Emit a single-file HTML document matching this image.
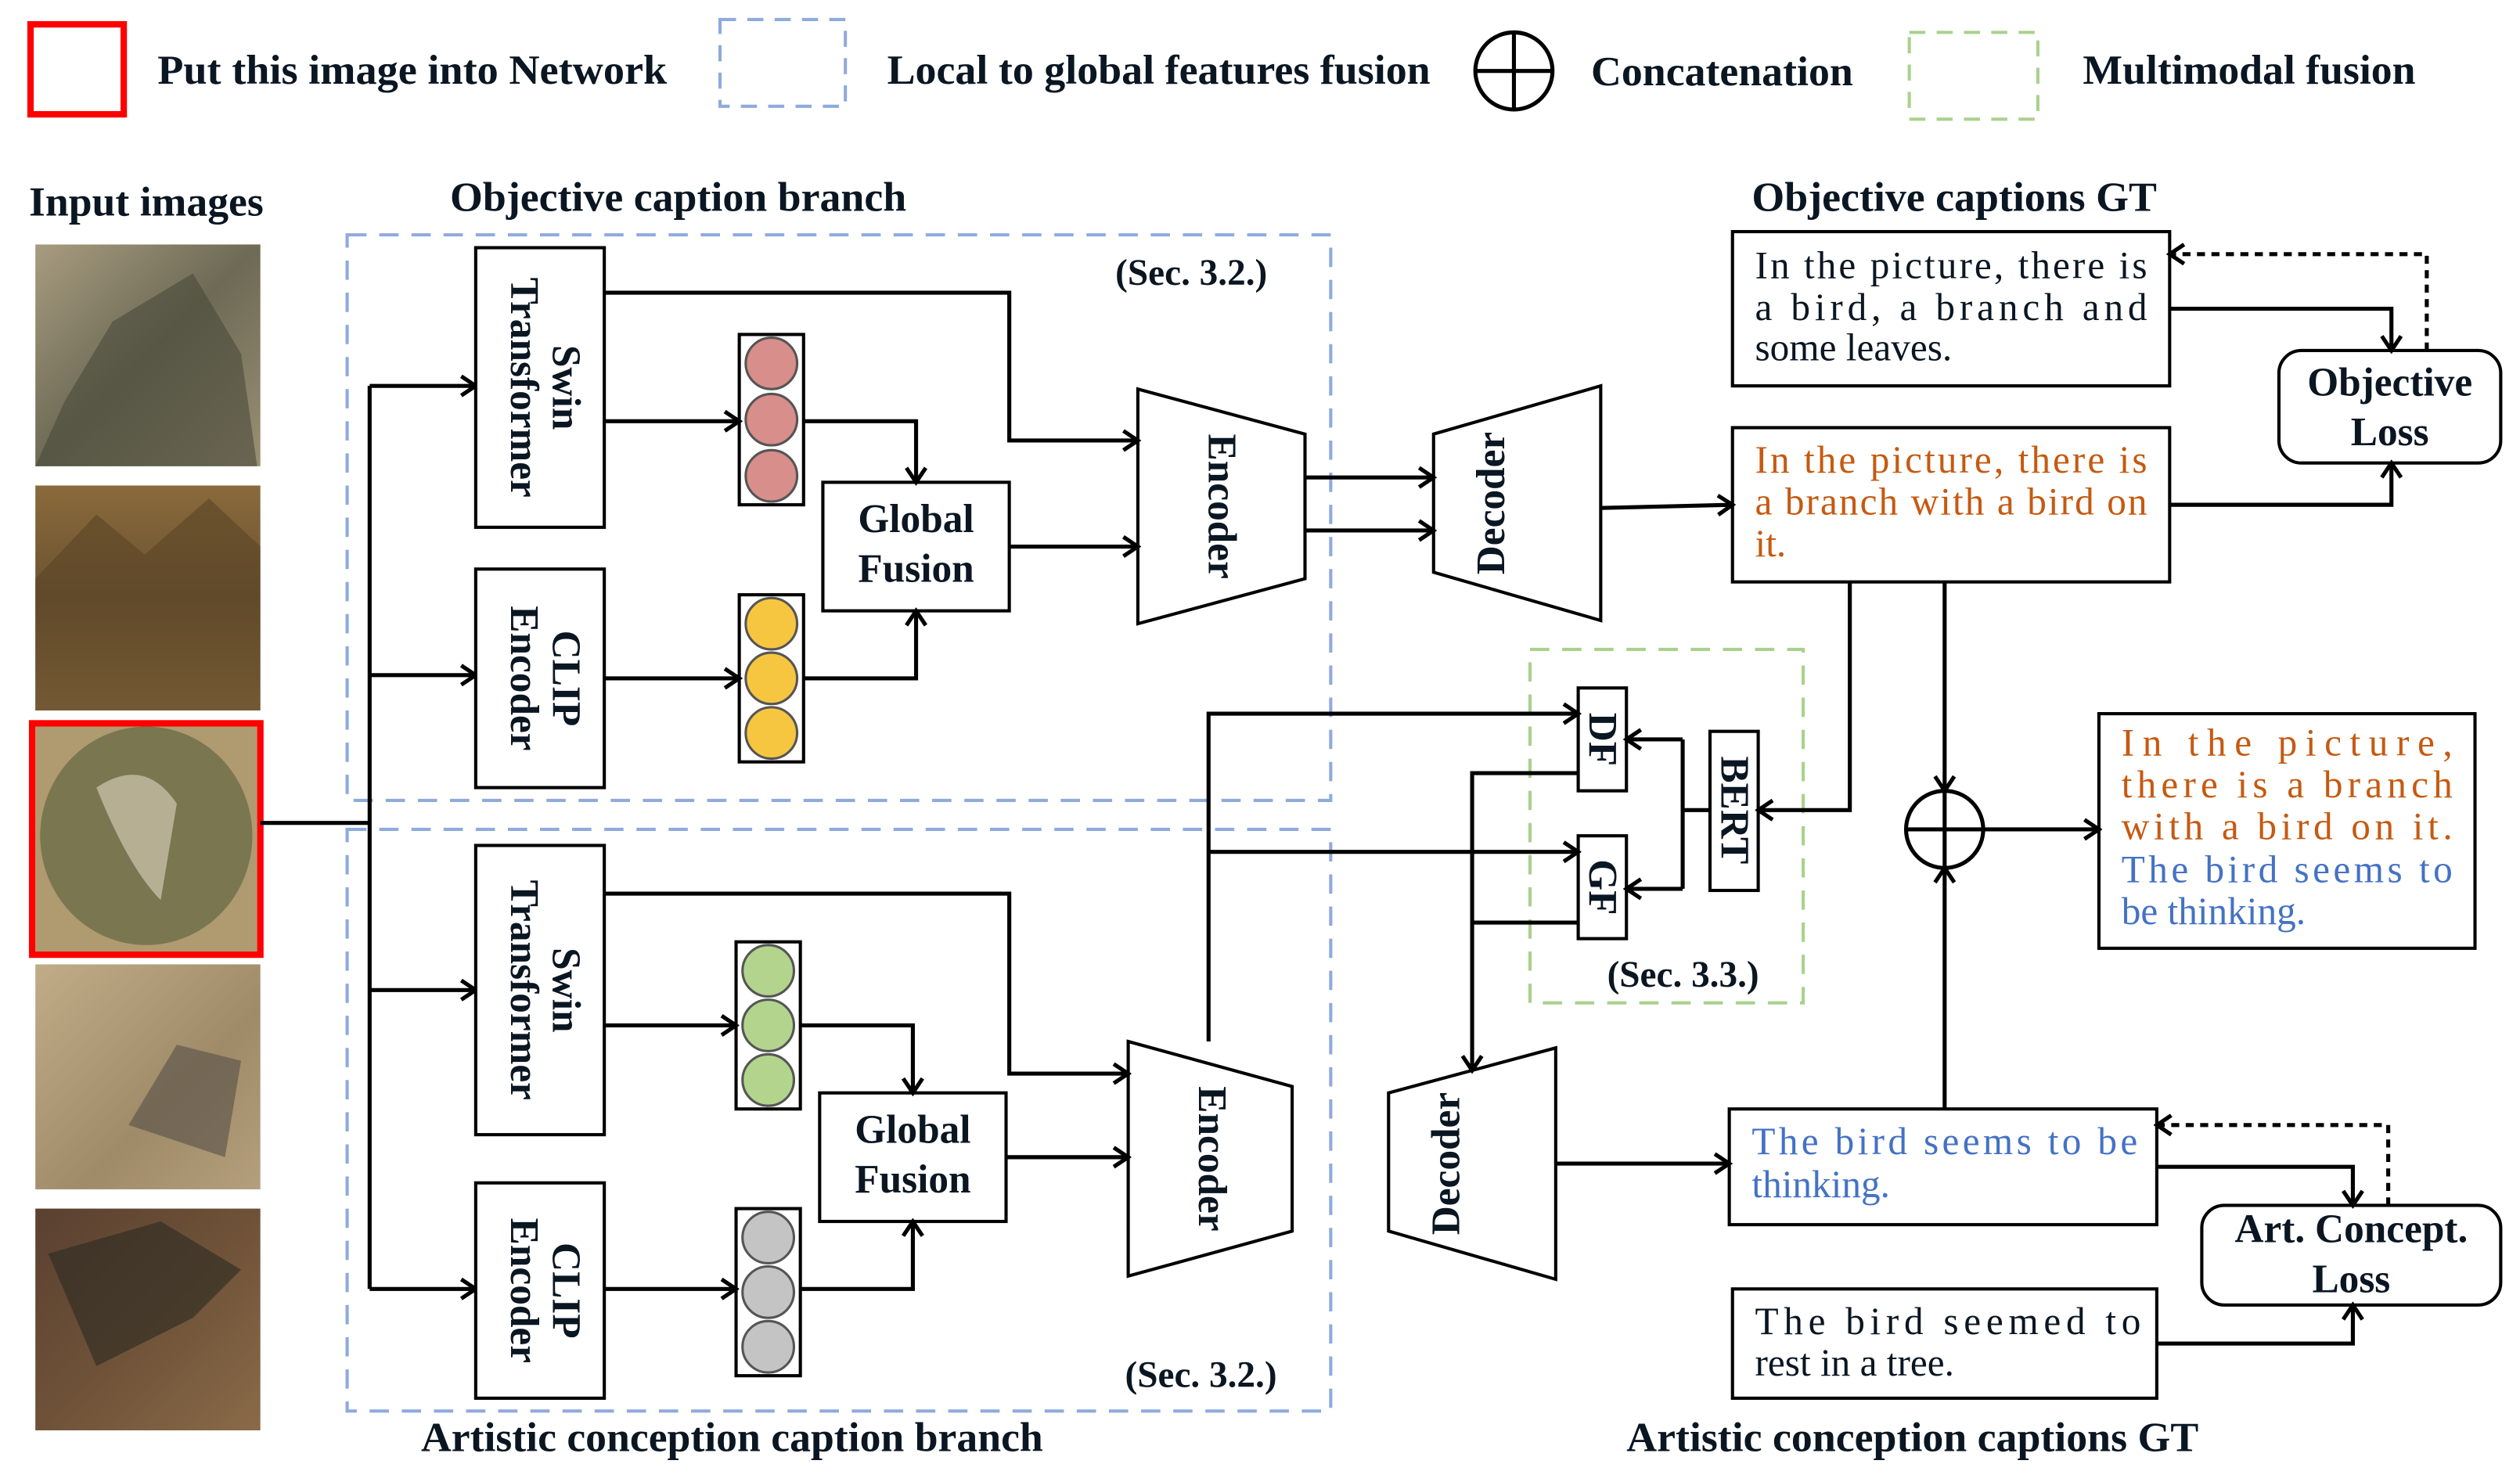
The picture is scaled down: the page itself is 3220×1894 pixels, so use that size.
<!DOCTYPE html>
<html><head><meta charset="utf-8"><style>
html,body{margin:0;padding:0;background:#fff;}
svg{display:block;}
text,tspan{font-family:"Liberation Serif","Times New Roman",serif;}
.b{font-weight:bold;fill:#0a1622;}
.t{font-size:24px;fill:#0a1622;}
.o{fill:#c55a11;font-size:24px;}
.u{fill:#4472c4;font-size:24px;}
</style></head><body>
<svg width="3220" height="1894" viewBox="0 0 1568 922" xmlns="http://www.w3.org/2000/svg" font-family="Liberation Serif, serif">
<defs>
<marker id="a" markerWidth="12" markerHeight="14" refX="10" refY="7" orient="auto" markerUnits="userSpaceOnUse">
<path d="M1,1 L10,7 L1,13" fill="none" stroke="#000" stroke-width="2.5"/></marker>
<linearGradient id="p1" x1="0" y1="0" x2="1" y2="1"><stop offset="0" stop-color="#a89c80"/><stop offset="0.5" stop-color="#6d6a55"/><stop offset="1" stop-color="#9a8f74"/></linearGradient>
<linearGradient id="p2" x1="0" y1="0" x2="0" y2="1"><stop offset="0" stop-color="#8a6a3c"/><stop offset="0.5" stop-color="#6b5230"/><stop offset="1" stop-color="#9a7a48"/></linearGradient>
<linearGradient id="p4" x1="0" y1="0" x2="1" y2="1"><stop offset="0" stop-color="#c0ad88"/><stop offset="0.6" stop-color="#a08b68"/><stop offset="1" stop-color="#b49f7c"/></linearGradient>
<linearGradient id="p5" x1="0" y1="0" x2="1" y2="1"><stop offset="0" stop-color="#5a4030"/><stop offset="0.5" stop-color="#6e5238"/><stop offset="1" stop-color="#8a6a48"/></linearGradient>
</defs>
<g fill="none" stroke="#000" stroke-width="2.5">
<rect x="19" y="15" width="58" height="56" stroke="#f00" stroke-width="4"/>
<rect x="448" y="12" width="78" height="54" stroke="#8faadc" stroke-width="2" stroke-dasharray="10,7"/>
<circle cx="942" cy="44" r="24"/><line x1="918" y1="44" x2="966" y2="44"/><line x1="942" y1="20" x2="942" y2="68"/>
<rect x="1188" y="20" width="80" height="54" stroke="#a9d18e" stroke-width="2" stroke-dasharray="10,7"/>
<rect x="216" y="146" width="612" height="352" stroke="#8faadc" stroke-width="2" stroke-dasharray="12,8"/>
<rect x="216" y="516" width="612" height="362" stroke="#8faadc" stroke-width="2" stroke-dasharray="12,8"/>
<rect x="952" y="404" width="170" height="220" stroke="#a9d18e" stroke-width="2" stroke-dasharray="12,8"/>
</g>
<text x="98" y="52" class="b" font-size="26" textLength="317" lengthAdjust="spacingAndGlyphs">Put this image into Network</text>
<text x="552" y="52" class="b" font-size="26" textLength="338" lengthAdjust="spacingAndGlyphs">Local to global features fusion</text>
<text x="990" y="53" class="b" font-size="26" textLength="163" lengthAdjust="spacingAndGlyphs">Concatenation</text>
<text x="1296" y="52" class="b" font-size="26" textLength="207" lengthAdjust="spacingAndGlyphs">Multimodal fusion</text>
<text x="18" y="134" class="b" font-size="26" textLength="146" lengthAdjust="spacingAndGlyphs">Input images</text>
<text x="280" y="131" class="b" font-size="26" textLength="284" lengthAdjust="spacingAndGlyphs">Objective caption branch</text>
<text x="262" y="903" class="b" font-size="26" textLength="387" lengthAdjust="spacingAndGlyphs">Artistic conception caption branch</text>
<text x="1090" y="131" class="b" font-size="26" textLength="252" lengthAdjust="spacingAndGlyphs">Objective captions GT</text>
<text x="1012" y="903" class="b" font-size="26" textLength="356" lengthAdjust="spacingAndGlyphs">Artistic conception captions GT</text>
<text x="694" y="177" class="b" font-size="23">(Sec. 3.2.)</text>
<text x="700" y="863" class="b" font-size="23">(Sec. 3.2.)</text>
<text x="1000" y="614" class="b" font-size="23">(Sec. 3.3.)</text>
<rect x="22" y="152" width="140" height="138" fill="url(#p1)"/>
<path d="M40,250 L70,200 L120,170 L150,220 L160,290 L22,290Z" fill="#4a4a3a" opacity="0.6"/>
<rect x="22" y="302" width="140" height="140" fill="url(#p2)"/>
<path d="M22,360 L60,320 L90,345 L130,310 L162,340 L162,442 L22,442Z" fill="#5a4426" opacity="0.6"/>
<rect x="22" y="452" width="138" height="140" fill="#b09a70"/>
<ellipse cx="91" cy="520" rx="66" ry="68" fill="#7a7650"/>
<path d="M60,490 Q90,470 110,500 L100,560 Q80,540 60,490Z" fill="#d0c8b0" opacity="0.7"/>
<rect x="20" y="450" width="142" height="144" fill="none" stroke="#f00" stroke-width="4"/>
<rect x="22" y="600" width="140" height="140" fill="url(#p4)"/>
<path d="M80,700 L110,650 L150,660 L140,720Z" fill="#555048" opacity="0.6"/>
<rect x="22" y="752" width="140" height="138" fill="url(#p5)"/>
<path d="M30,780 L100,760 L150,790 L120,820 L60,850Z" fill="#2a2a22" opacity="0.6"/>
<g fill="none" stroke="#000" stroke-width="2.5">
<line x1="162" y1="512" x2="230" y2="512"/>
<line x1="230" y1="240" x2="230" y2="802"/>
<line x1="230" y1="240" x2="296" y2="240" marker-end="url(#a)"/>
<line x1="230" y1="420" x2="296" y2="420" marker-end="url(#a)"/>
<line x1="230" y1="616" x2="296" y2="616" marker-end="url(#a)"/>
<line x1="230" y1="802" x2="296" y2="802" marker-end="url(#a)"/>
</g>
<g fill="#fff" stroke="#000" stroke-width="2">
<rect x="296" y="154" width="80" height="174"/>
<rect x="296" y="354" width="80" height="136"/>
<rect x="460" y="208" width="40" height="106"/>
<rect x="460" y="370" width="40" height="104"/>
<rect x="512" y="300" width="116" height="80"/>
<path d="M708,242 L812,270 L812,360 L708,388Z"/>
<path d="M892,270 L996,240 L996,386 L892,356Z"/>
<rect x="296" y="526" width="80" height="180"/>
<rect x="296" y="736" width="80" height="134"/>
<rect x="458" y="586" width="40" height="104"/>
<rect x="458" y="752" width="40" height="104"/>
<rect x="510" y="680" width="116" height="80"/>
<path d="M702,648 L804,676 L804,766 L702,794Z"/>
<path d="M864,680 L968,652 L968,796 L864,766Z"/>
<rect x="982" y="428" width="30" height="64"/>
<rect x="982" y="520" width="30" height="64"/>
<rect x="1064" y="455" width="30" height="99"/>
<rect x="1078" y="144" width="272" height="96"/>
<rect x="1078" y="266" width="272" height="96"/>
<rect x="1418" y="218" width="138" height="70" rx="14"/>
<rect x="1306" y="444" width="234" height="146"/>
<rect x="1076" y="690" width="266" height="72"/>
<rect x="1370" y="750" width="186" height="62" rx="14"/>
<rect x="1078" y="802" width="264" height="68"/>
</g>
<g stroke="#555" stroke-width="1.5">
<circle cx="480" cy="226" r="16" fill="#d88e8a"/><circle cx="480" cy="261" r="16" fill="#d88e8a"/><circle cx="480" cy="296" r="16" fill="#d88e8a"/>
<circle cx="480" cy="388" r="16" fill="#f7c640"/><circle cx="480" cy="422" r="16" fill="#f7c640"/><circle cx="480" cy="456" r="16" fill="#f7c640"/>
<circle cx="478" cy="604" r="16" fill="#b3d48c"/><circle cx="478" cy="638" r="16" fill="#b3d48c"/><circle cx="478" cy="672" r="16" fill="#b3d48c"/>
<circle cx="478" cy="770" r="16" fill="#c4c4c4"/><circle cx="478" cy="804" r="16" fill="#c4c4c4"/><circle cx="478" cy="838" r="16" fill="#c4c4c4"/>
</g>
<g fill="none" stroke="#000" stroke-width="2.5">
<polyline points="376,182 628,182 628,274 708,274" marker-end="url(#a)"/>
<line x1="376" y1="262" x2="460" y2="262" marker-end="url(#a)"/>
<polyline points="500,262 570,262 570,300" marker-end="url(#a)"/>
<line x1="376" y1="422" x2="460" y2="422" marker-end="url(#a)"/>
<polyline points="500,422 570,422 570,380" marker-end="url(#a)"/>
<line x1="628" y1="340" x2="708" y2="340" marker-end="url(#a)"/>
<line x1="812" y1="297" x2="892" y2="297" marker-end="url(#a)"/>
<line x1="812" y1="330" x2="892" y2="330" marker-end="url(#a)"/>
<line x1="996" y1="316" x2="1078" y2="314" marker-end="url(#a)"/>
<polyline points="376,556 628,556 628,668 702,668" marker-end="url(#a)"/>
<line x1="376" y1="638" x2="458" y2="638" marker-end="url(#a)"/>
<polyline points="498,638 568,638 568,680" marker-end="url(#a)"/>
<line x1="376" y1="802" x2="458" y2="802" marker-end="url(#a)"/>
<polyline points="498,802 568,802 568,760" marker-end="url(#a)"/>
<line x1="626" y1="720" x2="702" y2="720" marker-end="url(#a)"/>
<polyline points="752,648 752,444 982,444" marker-end="url(#a)"/>
<line x1="752" y1="530" x2="982" y2="530" marker-end="url(#a)"/>
<polyline points="982,481 916,481 916,666" marker-end="url(#a)"/>
<line x1="982" y1="574" x2="916" y2="574"/>
<polyline points="1064,504 1047,504"/>
<polyline points="1047,460 1047,553"/>
<line x1="1047" y1="460" x2="1012" y2="460" marker-end="url(#a)"/>
<line x1="1047" y1="553" x2="1012" y2="553" marker-end="url(#a)"/>
<polyline points="1151,362 1151,504 1094,504" marker-end="url(#a)"/>
<line x1="968" y1="724" x2="1076" y2="724" marker-end="url(#a)"/>
<line x1="1210" y1="362" x2="1210" y2="492" marker-end="url(#a)"/>
<line x1="1210" y1="690" x2="1210" y2="540" marker-end="url(#a)"/>
<circle cx="1210" cy="516" r="24"/><line x1="1186" y1="516" x2="1234" y2="516"/><line x1="1210" y1="492" x2="1210" y2="540"/>
<line x1="1234" y1="516" x2="1306" y2="516" marker-end="url(#a)"/>
<polyline points="1350,192 1488,192 1488,218" marker-end="url(#a)"/>
<polyline points="1350,314 1488,314 1488,288" marker-end="url(#a)"/>
<polyline points="1510,218 1510,158 1350,158" stroke-dasharray="5,4" marker-end="url(#a)"/>
<polyline points="1342,726 1464,726 1464,750" marker-end="url(#a)"/>
<polyline points="1342,836 1464,836 1464,812" marker-end="url(#a)"/>
<polyline points="1486,750 1486,700 1342,700" stroke-dasharray="5,4" marker-end="url(#a)"/>
</g>
<g class="b" font-size="25" text-anchor="middle">
<text transform="translate(344,241) rotate(90)">Swin</text>
<text transform="translate(318,241) rotate(90)">Transformer</text>
<text transform="translate(344,422) rotate(90)">CLIP</text>
<text transform="translate(318,422) rotate(90)">Encoder</text>
<text transform="translate(344,616) rotate(90)">Swin</text>
<text transform="translate(318,616) rotate(90)">Transformer</text>
<text transform="translate(344,803) rotate(90)">CLIP</text>
<text transform="translate(318,803) rotate(90)">Encoder</text>
<text transform="translate(752,315) rotate(90)">Encoder</text>
<text transform="translate(746,721) rotate(90)">Encoder</text>
<text transform="translate(936,313) rotate(-90)">Decoder</text>
<text transform="translate(908,724) rotate(-90)">Decoder</text>
<text transform="translate(989,460) rotate(90)">DF</text>
<text transform="translate(989,552) rotate(90)">GF</text>
<text transform="translate(1071,504) rotate(90)">BERT</text>
</g>
<g class="b" font-size="25" text-anchor="middle">
<text x="570" y="331">Global</text><text x="570" y="362">Fusion</text>
<text x="568" y="711">Global</text><text x="568" y="742">Fusion</text>
<text x="1487" y="246">Objective</text><text x="1487" y="277">Loss</text>
<text x="1463" y="773">Art. Concept.</text><text x="1463" y="804">Loss</text>
</g>
<text class="t" font-family="Liberation Serif, serif"><tspan x="1092" y="173" textLength="244" lengthAdjust="spacing">In the picture, there is</tspan><tspan x="1092" y="199" textLength="244" lengthAdjust="spacing">a bird, a branch and</tspan><tspan x="1092" y="224">some leaves.</tspan></text>
<text class="o" font-family="Liberation Serif, serif"><tspan x="1092" y="294" textLength="244" lengthAdjust="spacing">In the picture, there is</tspan><tspan x="1092" y="320" textLength="244" lengthAdjust="spacing">a branch with a bird on</tspan><tspan x="1092" y="346">it.</tspan></text>
<text class="o" font-family="Liberation Serif, serif"><tspan x="1320" y="470" textLength="206" lengthAdjust="spacing">In the picture,</tspan><tspan x="1320" y="496" textLength="206" lengthAdjust="spacing">there is a branch</tspan><tspan x="1320" y="522" textLength="206" lengthAdjust="spacing">with a bird on it.</tspan></text>
<text class="u" font-family="Liberation Serif, serif"><tspan x="1320" y="549" textLength="206" lengthAdjust="spacing">The bird seems to</tspan><tspan x="1320" y="575">be thinking.</tspan></text>
<text class="u" font-family="Liberation Serif, serif"><tspan x="1090" y="718" textLength="240" lengthAdjust="spacing">The bird seems to be</tspan><tspan x="1090" y="745">thinking.</tspan></text>
<text class="t" font-family="Liberation Serif, serif"><tspan x="1092" y="830" textLength="240" lengthAdjust="spacing">The bird seemed to</tspan><tspan x="1092" y="856">rest in a tree.</tspan></text>
</svg>
</body></html>
